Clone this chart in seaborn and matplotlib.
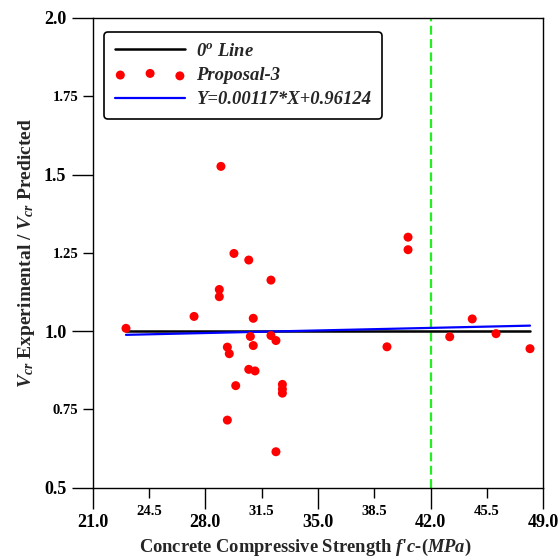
import seaborn as sns
import matplotlib
matplotlib.use("Agg")
import matplotlib.pyplot as plt
import pandas as pd
import numpy as np

# data
fc = [28.97, 29.78, 30.70, 32.08, 28.87, 28.87, 27.30, 30.98, 23.07, 30.80,
      32.08, 32.39, 30.98, 29.37, 29.49, 30.70, 31.09, 29.89, 32.79, 32.79,
      32.79, 29.37, 32.39, 40.60, 40.60, 39.29, 43.19, 44.59, 46.07, 48.18]
ratio = [1.526, 1.248, 1.227, 1.163, 1.133, 1.110, 1.047, 1.041, 1.009, 0.983,
         0.986, 0.970, 0.954, 0.949, 0.928, 0.878, 0.873, 0.826, 0.830, 0.815,
         0.802, 0.716, 0.615, 1.300, 1.260, 0.950, 0.982, 1.039, 0.992, 0.944]
slope = 0.00117
intercept = 0.96124
limit_fc = 42.0

x_major = [21.0, 28.0, 35.0, 42.0, 49.0]
x_minor = [24.5, 31.5, 38.5, 45.5]
y_major = [0.5, 1.0, 1.5, 2.0]
y_minor = [0.75, 1.25, 1.75]

df = pd.DataFrame({"fc": fc, "ratio": ratio})
x_fit = np.array([min(fc), max(fc)])
fit = pd.DataFrame({"fc": x_fit, "y": slope * x_fit + intercept, "zero": [1.0, 1.0]})

sns.set_style("ticks")
plt.rcParams["font.family"] = ["Liberation Serif", "DejaVu Serif"]
plt.rcParams["font.weight"] = "bold"
plt.rcParams["mathtext.fontset"] = "custom"
plt.rcParams["mathtext.rm"] = "Liberation Serif:bold"
plt.rcParams["mathtext.it"] = "Liberation Serif:bold:italic"
plt.rcParams["mathtext.bf"] = "Liberation Serif:bold"

fig = plt.figure(figsize=(5.6, 5.6), dpi=100)
ax = fig.add_axes([0.1655, 0.129, 0.8045, 0.839])

sns.lineplot(data=fit, x="fc", y="zero", color="black", linewidth=1.8,
             label="0$^{o}$ Line", ax=ax, zorder=3)
sns.scatterplot(data=df, x="fc", y="ratio", color="#ff0000", s=42,
                edgecolor="none", label="Proposal-3", ax=ax, zorder=5)
sns.lineplot(data=fit, x="fc", y="y", color="#0000ff", linewidth=1.6,
             label="Y=0.00117*X+0.96124", ax=ax, zorder=4)
ax.axvline(limit_fc, color="#22ee22", linewidth=1.6, dashes=(4, 2), zorder=2)

ax.set_xlim(x_major[0], x_major[-1])
ax.set_ylim(y_major[0], y_major[-1])
ax.set_xticks(x_major)
ax.set_xticklabels([f"{v:.1f}" for v in x_major])
ax.set_xticks(x_minor, minor=True)
ax.set_xticklabels([f"{v:.1f}" for v in x_minor], minor=True)
ax.set_yticks(y_major)
ax.set_yticklabels([f"{v:.1f}" for v in y_major])
ax.set_yticks(y_minor, minor=True)
ax.set_yticklabels([f"{v:g}" for v in y_minor], minor=True)

ax.tick_params(which="major", length=15, width=1, labelsize=13, pad=4,
               direction="out", colors="black")
ax.tick_params(which="minor", length=7.5, width=1, labelsize=10.5, pad=3,
               direction="out", colors="black")
ax.tick_params(axis="x", which="major", pad=4)
ax.tick_params(axis="x", which="minor", pad=5)
for lab in ax.get_xticklabels(which="both") + ax.get_yticklabels(which="both"):
    lab.set_fontweight("bold")

for sp in ax.spines.values():
    sp.set_visible(True)
    sp.set_linewidth(1.0)
    sp.set_color("black")

ax.set_xlabel("Concrete Compressive Strength $f$'$c$-($MPa$)", fontsize=13.3,
              fontweight="bold")
ax.xaxis.set_label_coords(0.471, -0.104)
ax.set_ylabel("$V_{cr}$ Experimental / $V_{cr}$ Predicted", fontsize=14,
              fontweight="bold", labelpad=5)

leg = ax.legend(loc="upper left", bbox_to_anchor=(0.025, 0.97), borderaxespad=0,
                prop={"family": "Liberation Serif", "weight": "bold",
                      "style": "italic", "size": 13.4},
                scatterpoints=3, markerscale=1.0, handlelength=3.8,
                handletextpad=0.55, labelspacing=0.38, borderpad=0.58,
                fancybox=True, framealpha=1, edgecolor="black")
leg.get_frame().set_linewidth(1.2)

fig.savefig("out.png", dpi=100)
